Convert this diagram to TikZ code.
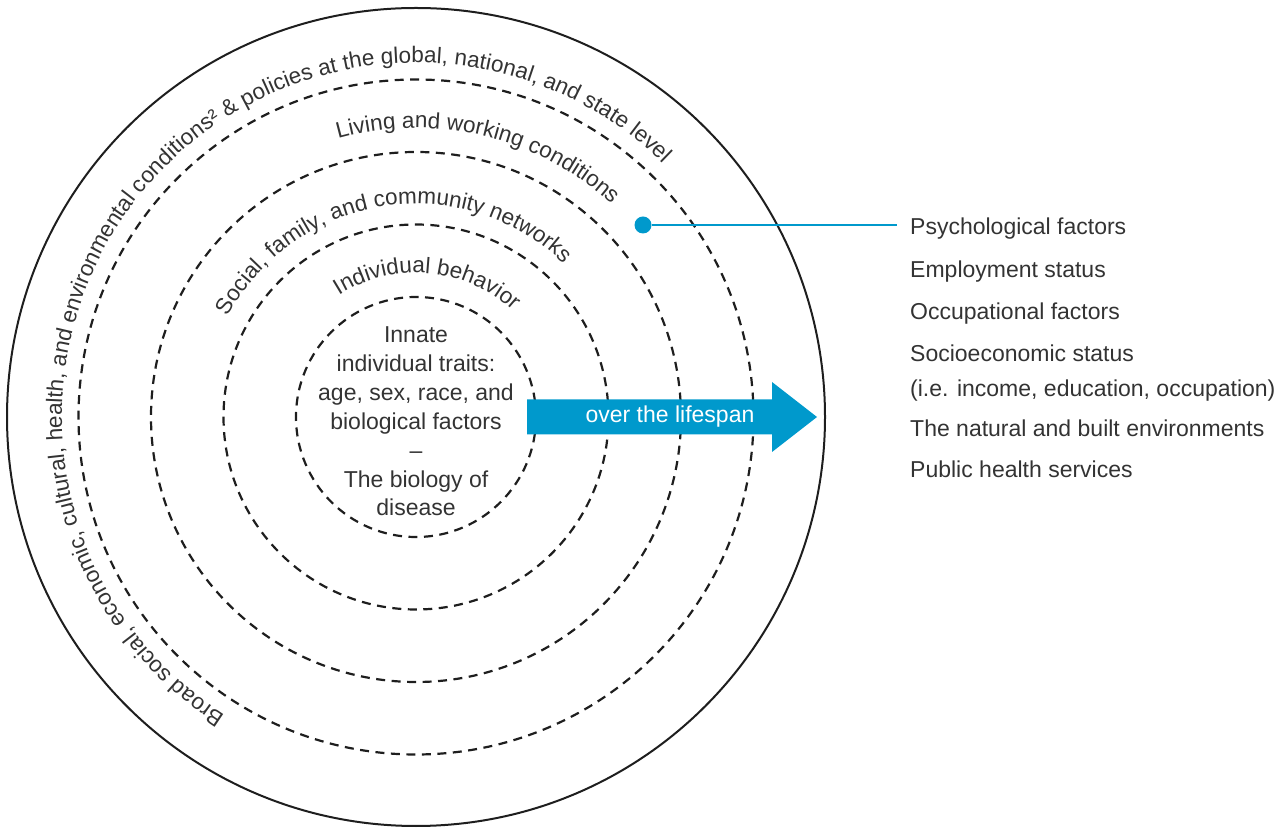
\documentclass[tikz,border=0pt]{standalone}
\usepackage{fontspec}
\setmainfont{Liberation Sans}
\usetikzlibrary{decorations.text}
\definecolor{lifeblue}{RGB}{0,153,204}
\definecolor{txtgray}{RGB}{51,51,51}
\definecolor{ringblack}{RGB}{30,30,30}
\newcommand{\arcfont}{\fontsize{22.5}{27}\selectfont}
\newcommand{\bodyfont}{\fontsize{23}{28}\selectfont}
\begin{document}
\begin{tikzpicture}[x=1pt,y=1pt,
  ring/.style={draw=ringblack, line width=2.2pt, dash pattern=on 9pt off 6.5pt},
  outerring/.style={draw=ringblack, line width=2pt},
  listitem/.style={anchor=base west, inner sep=0pt, font=\bodyfont, text=txtgray},
  coreline/.style={anchor=base, inner sep=0pt, font=\bodyfont, text=txtgray}]
\useasboundingbox (0,0) rectangle (1287,827);
\coordinate (C) at (416,410);
\draw[outerring] (C) circle[radius=409];
\foreach \r in {120,192.5,265,337.5} \draw[ring] (C) circle[radius=\r];

% curved ring labels
\path[decorate, decoration={text along path, text align=center, text color=txtgray,
  text={|\arcfont|Broad social, economic, cultural, health, and environmental conditions² {\&} policies at the global, national, and state level}}]
  (C) ++(250:354) arc[start angle=250, end angle=33, radius=354];
\path[decorate, decoration={text along path, text align=center, text color=txtgray,
  text={|\arcfont|Living and working conditions}}]
  (C) ++(120:289) arc[start angle=120, end angle=33, radius=289];
\path[decorate, decoration={text along path, text align=center, text color=txtgray,
  text={|\arcfont|Social, family, and community networks}}]
  (C) ++(165:213) arc[start angle=165, end angle=33, radius=213];
\path[decorate, decoration={text along path, text align=center, text color=txtgray,
  text={|\arcfont|Individual behavior}}]
  (C) ++(135:144) arc[start angle=135, end angle=35, radius=144];

% core text
\foreach \txt [count=\i] in {Innate, individual traits:, {age, sex, race, and}, biological factors, \textendash, The biology of, disease}
  \node[coreline] (core\i) at (416, {484-28.83*(\i-1)}) {\txt};

% arrow
\fill[lifeblue] (527,392.5) -- (772,392.5) -- (772,375) -- (817,410) -- (772,445) -- (772,427.5) -- (527,427.5) -- cycle;
\node[font=\bodyfont, text=white, inner sep=0pt] (span) at (670,410) {over the lifespan};

% callout
\node[circle, fill=lifeblue, inner sep=0pt, minimum size=17pt] (dot) at (643,602) {};
\coordinate (lend) at (897,602);
\draw[lifeblue, line width=2pt] (dot) -- (lend);

% list
\node[listitem] (psy) at (910,592) {Psychological factors};
\node[listitem] (emp) at (910,549) {Employment status};
\node[listitem] (occ) at (910,507) {Occupational factors};
\node[listitem] (soc) at (910,465) {Socioeconomic status};
\node[listitem] (soc2) at (910,430) {(i.e. income, education, occupation)};
\node[listitem] (nat) at (910,390) {The natural and built environments};
\node[listitem] (pub) at (910,349) {Public health services};
\end{tikzpicture}
\end{document}
